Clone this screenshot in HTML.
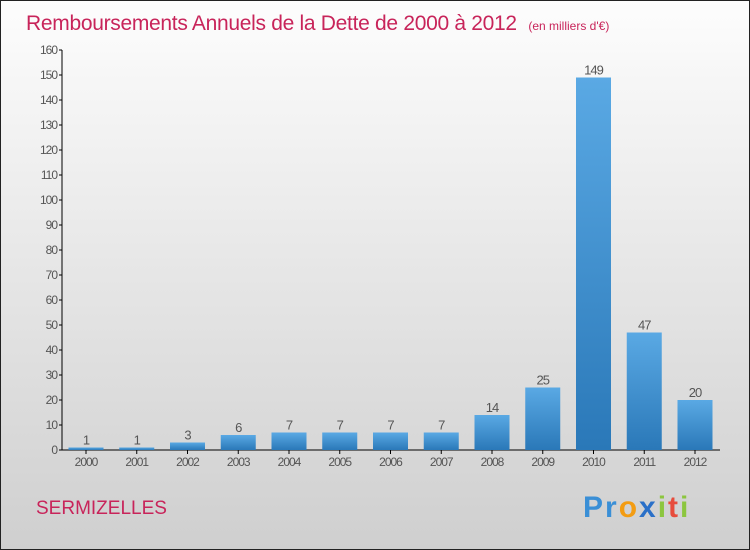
<!DOCTYPE html>
<html><head><meta charset="utf-8"><style>
body{margin:0;}
#wrap{width:750px;height:550px;position:relative;overflow:hidden;}
svg text{font-family:"Liberation Sans",sans-serif;}
</style></head><body>
<div id="wrap">
<svg id="chart" width="750" height="550" xmlns="http://www.w3.org/2000/svg">
<defs>
<linearGradient id="bg" x1="0" y1="0" x2="0" y2="1"><stop offset="0" stop-color="#fdfdfd"/><stop offset="1" stop-color="#cfcfcf"/></linearGradient>
<linearGradient id="bar" x1="0" y1="0" x2="0" y2="1"><stop offset="0" stop-color="#5aa9e4"/><stop offset="1" stop-color="#2a78b8"/></linearGradient>
</defs>
<rect x="0.5" y="0.5" width="749" height="549" fill="url(#bg)" stroke="#222"/>
<text x="26" y="30" font-size="21" fill="#c8245a" letter-spacing="-0.3">Remboursements Annuels de la Dette de 2000 à 2012 <tspan font-size="12" dx="6" letter-spacing="0">(en milliers d'€)</tspan></text>
<text x="36" y="514" font-size="19" fill="#c8245a">SERMIZELLES</text>
<text x="583" y="517" font-size="30" font-weight="bold" letter-spacing="2"><tspan fill="#3a8fd6">Pr</tspan><tspan fill="#f39c12">o</tspan><tspan fill="#2a70c8">x</tspan><tspan fill="#8cc63f">i</tspan><tspan fill="#e74c3c">t</tspan><tspan fill="#8cc63f">i</tspan></text>
<g id="plot"></g>
</svg>
</div>
<script>
const categories=["2000","2001","2002","2003","2004","2005","2006","2007","2008","2009","2010","2011","2012"];
const values=[1,1,3,6,7,7,7,7,14,25,149,47,20];
const yTicks=[0,10,20,30,40,50,60,70,80,90,100,110,120,130,140,150,160];
const NS="http://www.w3.org/2000/svg";
const g=document.getElementById('plot');
const y0=450,yTop=50,yMax=160;
function yS(v){return y0-(v/yMax)*(y0-yTop);}
function xS(i){return 86+i*50.75;}
function mk(t,a){const e=document.createElementNS(NS,t);for(const k in a)e.setAttribute(k,a[k]);g.appendChild(e);return e;}
let ax=mk('line',{x1:62,y1:yTop,x2:62,y2:y0,stroke:'#000'});


let bx=mk('line',{x1:62,y1:y0,x2:720,y2:y0,stroke:'#000'});


yTicks.forEach(v=>{
 const y=yS(v);
 mk('line',{x1:59,y1:y,x2:62,y2:y,stroke:'#000'});
 const t=mk('text',{x:57,y:y+4,'font-size':12,fill:'#555','text-anchor':'end','letter-spacing':'-1'});
 t.textContent=v;
 
 
});
categories.forEach((c,i)=>{
 const x=xS(i),v=values[i],y=yS(v);
 const r=mk('rect',{x:x-17.5,y:y,width:35,height:y0-y,fill:'url(#bar)'});
 
 
 mk('line',{x1:x,y1:y0,x2:x,y2:y0+4,stroke:'#000'});
 const t=mk('text',{x:x,y:y0+16,'font-size':12,fill:'#555','text-anchor':'middle','letter-spacing':'-1'});
 t.textContent=c;
 
 
 const l=mk('text',{x:x,y:y-3,'font-size':13,fill:'#555','text-anchor':'middle','letter-spacing':'-1'});
 l.textContent=v;
 
 
});
</script>
</body></html>
